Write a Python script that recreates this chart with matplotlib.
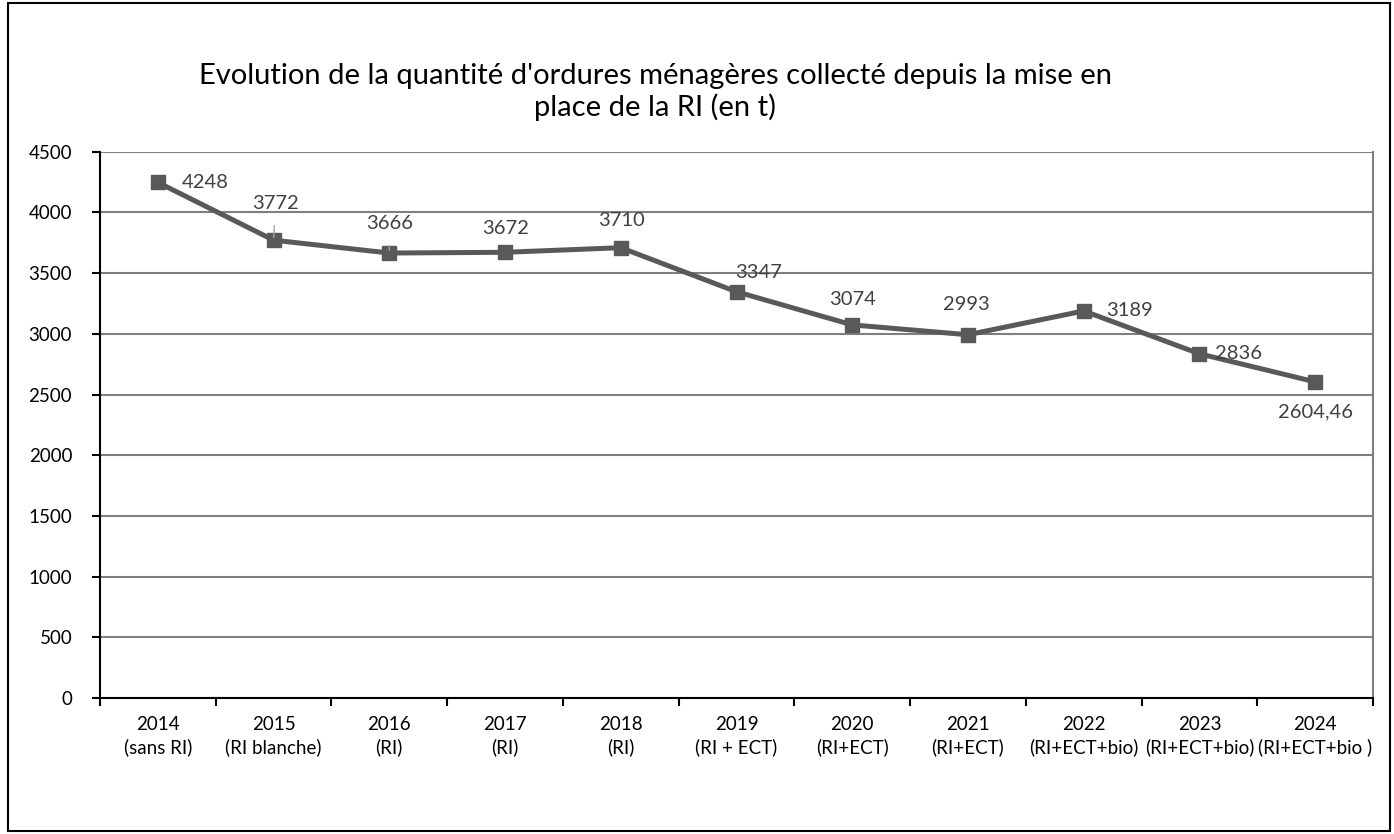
import matplotlib.pyplot as plt
from matplotlib.patches import Rectangle

years = ['2014', '2015', '2016', '2017', '2018', '2019', '2020', '2021', '2022', '2023', '2024']
phases = ['(sans RI)', '(RI blanche)', '(RI)', '(RI)', '(RI)', '(RI + ECT)', '(RI+ECT)',
          '(RI+ECT)', '(RI+ECT+bio)', '(RI+ECT+bio)', '(RI+ECT+bio )']
tonnes = [4248, 3772, 3666, 3672, 3710, 3347, 3074, 2993, 3189, 2836, 2604.46]
labels = ['4248', '3772', '3666', '3672', '3710', '3347', '3074', '2993', '3189', '2836', '2604,46']
# label offsets in pixels (dx, dy) and whether a leader line is drawn
offsets = [(47, 0), (2, 37), (0, 30), (1, 24), (1, 27), (22, 19), (0, 25), (-2, 30),
           (46, 0), (39, 0), (0, -30)]
leaders = [False, True, True, False, False, False, False, False, False, False, False]

plt.rcParams['font.family'] = ['Lato', 'DejaVu Sans']

fig = plt.figure(figsize=(13.94, 8.34), dpi=100)
ax = fig.add_axes([0.0717, 0.163, 0.9133, 0.655])

x = list(range(len(years)))
ax.plot(x, tonnes, color='#595959', lw=3.6, marker='s', markersize=10, zorder=3)

for i, (v, lab) in enumerate(zip(tonnes, labels)):
    dx, dy = offsets[i]
    props = None
    if leaders[i]:
        props = dict(arrowstyle='-', color='#a6a6a6', lw=1, shrinkA=8, shrinkB=2)
    ax.annotate(lab, (i, v), xytext=(dx, dy), textcoords='offset pixels',
                ha='center', va='center', fontsize=14.5, color='#404040',
                arrowprops=props, zorder=4)

ax.set_xlim(-0.5, len(years) - 0.5)
ax.set_ylim(0, 4500)
ax.set_yticks(range(0, 4501, 500))
ax.set_xticks([i + 0.5 for i in range(-1, len(years))], minor=False)
ax.set_xticklabels([])
ax.set_xticks(x, [f'{y}\n{p}' for y, p in zip(years, phases)], minor=True)
ax.tick_params(axis='x', which='minor', length=0, labelsize=13.5, pad=13)
ax.tick_params(axis='x', which='major', length=6, width=1.5, direction='out')
ax.tick_params(axis='y', length=6, width=1.5, labelsize=13.5, pad=14)
for t in ax.get_xticklabels(minor=True):
    t.set_linespacing(1.35)
    t.set_multialignment('center')

ax.yaxis.grid(True, color='#7f7f7f', lw=1.5)
ax.set_axisbelow(True)
ax.spines['top'].set_visible(False)
ax.spines['right'].set_color('#7f7f7f')
ax.spines['right'].set_linewidth(1.5)
ax.spines['left'].set_linewidth(1.5)
ax.spines['bottom'].set_linewidth(1.5)

fig.text(0.47, 0.89, "Evolution de la quantité d'ordures ménagères collecté depuis la mise en\nplace de la RI (en t)",
         ha='center', va='center', fontsize=21, linespacing=1.2)

fig.patches.append(Rectangle((0.006, 0.003), 0.991, 0.994, transform=fig.transFigure,
                             fill=False, edgecolor='black', lw=1.5))

fig.savefig('out.png', dpi=100)
